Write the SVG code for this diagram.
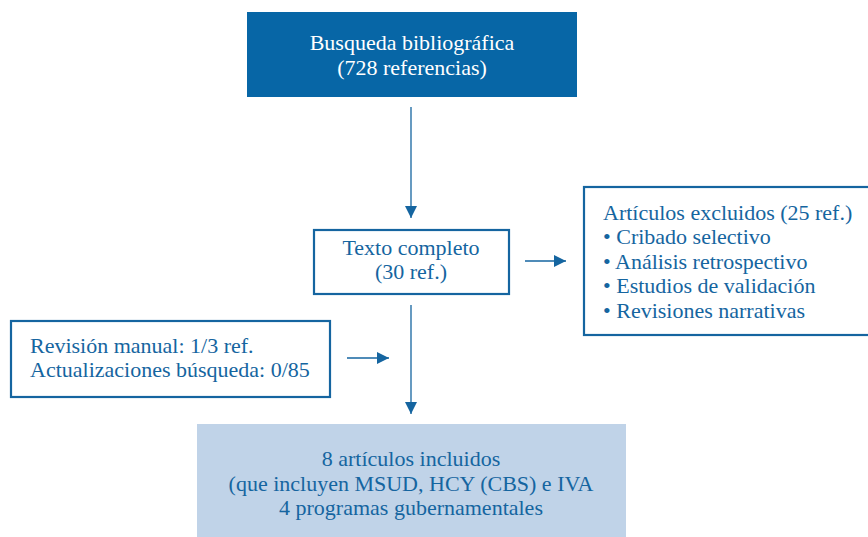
<svg xmlns="http://www.w3.org/2000/svg" width="868" height="537" viewBox="0 0 868 537">
<defs>
<style>
text{font-family:"Liberation Serif",serif;font-size:22px;fill:#1565a0}
.c{text-anchor:middle}
.w{fill:#ffffff}
.box{fill:#ffffff;stroke:#1565a0;stroke-width:2.2}
.ln{stroke:#1565a0;stroke-width:1.3;fill:none}
</style>
<marker id="ah" viewBox="0 0 10 10" refX="10" refY="5" markerWidth="12" markerHeight="12" markerUnits="userSpaceOnUse" orient="auto">
<path d="M0,0 L10,5 L0,10 z" fill="#1565a0"/>
</marker>
</defs>
<rect width="868" height="537" fill="#ffffff"/>
<g id="busqueda">
<rect x="247" y="12" width="330" height="85" fill="#0766a6"/>
<text class="c w" x="412" y="50">Busqueda bibliográfica</text>
<text class="c w" x="412" y="75">(728 referencias)</text>
</g>
<g id="texto">
<rect class="box" x="314" y="230" width="195" height="64"/>
<text class="c" x="411" y="255">Texto completo</text>
<text class="c" x="411" y="279">(30 ref.)</text>
</g>
<g id="excluidos">
<rect class="box" x="584" y="187" width="290" height="148"/>
<text x="603" y="220">Artículos excluidos (25 ref.)</text>
<text x="603" y="244">• Cribado selectivo</text>
<text x="603" y="269">• Análisis retrospectivo</text>
<text x="603" y="293">• Estudios de validación</text>
<text x="603" y="318">• Revisiones narrativas</text>
</g>
<g id="revision">
<rect class="box" x="11" y="321" width="319" height="76"/>
<text x="30" y="353">Revisión manual: 1/3 ref.</text>
<text x="30" y="377">Actualizaciones búsqueda: 0/85</text>
</g>
<g id="incluidos">
<rect x="197" y="424" width="429" height="113" fill="#c0d3e8"/>
<text class="c" x="411" y="466">8 artículos incluidos</text>
<text class="c" x="411" y="491">(que incluyen MSUD, HCY (CBS) e IVA</text>
<text class="c" x="411" y="515">4 programas gubernamentales</text>
</g>
<g id="connectors">
<line class="ln" x1="411" y1="107" x2="411" y2="218" marker-end="url(#ah)"/>
<line class="ln" x1="525" y1="261" x2="566" y2="261" marker-end="url(#ah)"/>
<line class="ln" x1="411" y1="305" x2="411" y2="414" marker-end="url(#ah)"/>
<line class="ln" x1="347" y1="358" x2="389" y2="358" marker-end="url(#ah)"/>
</g>
</svg>
